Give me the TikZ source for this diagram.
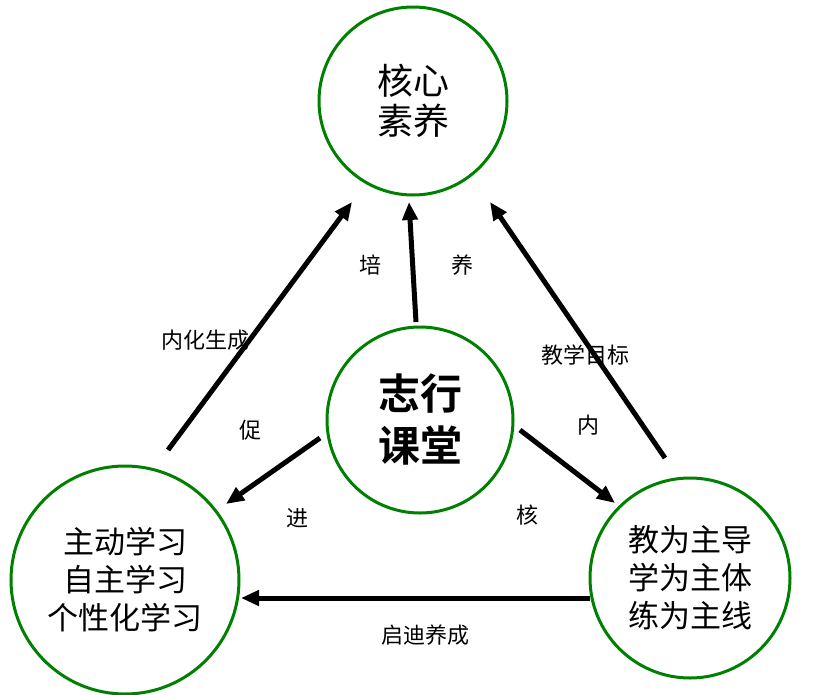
\documentclass[tikz,border=0pt]{standalone}
\usepackage{fontspec}
\usetikzlibrary{arrows.meta}
\newfontfamily\cjk{Noto Sans CJK SC}
\newfontfamily\cjkb{Noto Sans CJK SC Bold}
\begin{document}
\begin{tikzpicture}[x=1pt,y=-1pt,
  circ/.style={circle,draw=green!50!black,line width=3pt,fill=white,inner sep=0pt,align=center,font=\cjk\fontsize{36}{42}\selectfont},
  arr/.style={-{Triangle[length=18pt,width=15pt]},line width=5pt,black},
  lab/.style={font=\cjk\fontsize{22}{26}\selectfont}]
\useasboundingbox (0,0) rectangle (830,694);
\node[circ,minimum size=188pt] (top) at (413,101) {核心\\[-2pt]素养};
\node[circ,minimum size=186pt,font=\cjkb\fontsize{42}{52}\selectfont] (mid) at (420,420) {志行\\课堂};
\node[circ,minimum size=228pt,font=\cjk\fontsize{31}{38}\selectfont] (left) at (125,580) {主动学习\\自主学习\\个性化学习};
\node[circ,minimum size=200pt,font=\cjk\fontsize{31}{38}\selectfont] (right) at (690,578) {教为主导\\学为主体\\练为主线};
\coordinate (a1) at (168,450); \coordinate (a2) at (352,202);
\draw[arr] (a1) -- (a2);
\coordinate (b1) at (416,322); \coordinate (b2) at (409,202);
\draw[arr] (b1) -- (b2);
\coordinate (c1) at (665,458); \coordinate (c2) at (490,202);
\draw[arr] (c1) -- (c2);
\coordinate (d1) at (320,438); \coordinate (d2) at (226,504);
\draw[arr] (d1) -- (d2);
\coordinate (e1) at (520,430); \coordinate (e2) at (615,503);
\draw[arr] (e1) -- (e2);
\coordinate (f1) at (590,598); \coordinate (f2) at (241,598);
\draw[arr] (f1) -- (f2);
\node[lab] (l1) at (205,340) {内化生成};
\node[lab] (l2) at (370,265) {培};
\node[lab] (l3) at (462,265) {养};
\node[lab] (l4) at (585,355) {教学目标};
\node[lab] (l5) at (250,430) {促};
\node[lab] (l6) at (588,425) {内};
\node[lab] (l7) at (297,518) {进};
\node[lab] (l8) at (527,515) {核};
\node[lab] (l9) at (425,635) {启迪养成};
\end{tikzpicture}
\end{document}
